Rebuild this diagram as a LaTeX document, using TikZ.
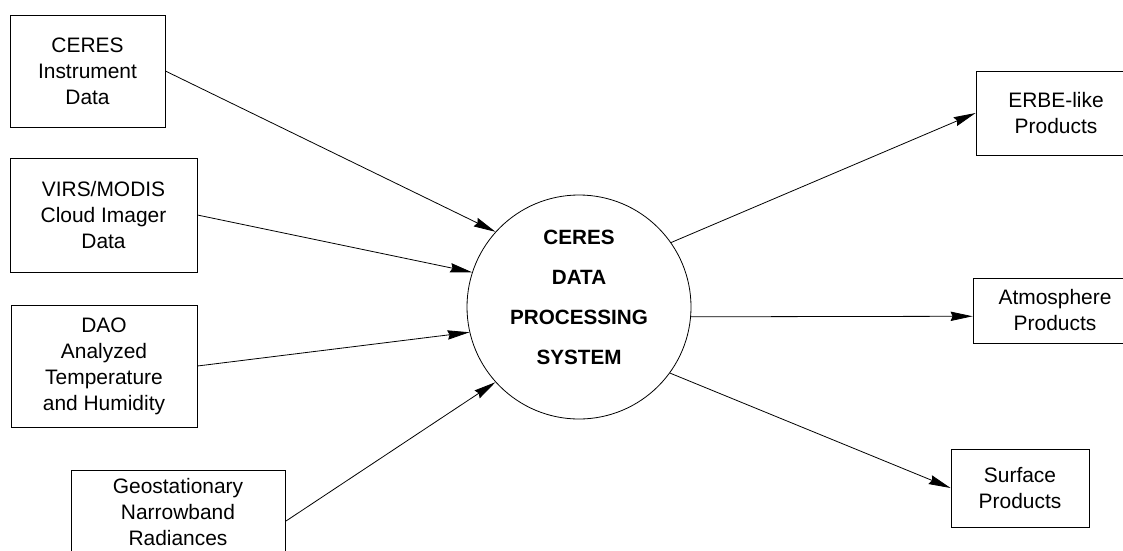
\documentclass[tikz,border=0pt]{standalone}
\usepackage{fontspec}
\setmainfont{Liberation Sans}
\usetikzlibrary{arrows.meta}
\begin{document}
\begin{tikzpicture}[x=0.75pt,y=-0.75pt,
  box/.style={draw, line width=0.6pt, align=center, inner sep=0pt, font=\fontsize{15.7}{19.5}\selectfont},
  flow/.style={line width=0.6pt, -{Stealth[length=16.5pt,width=7pt,inset=1.5pt]}}]
\useasboundingbox (0,0) rectangle (1123,550);
\clip (0,0) rectangle (1123,550);
\node[box, minimum width=116.25pt, minimum height=84pt] (in0) at (87.5,71) {CERES\\Instrument\\Data};
\node[box, minimum width=140.25pt, minimum height=85.5pt] (in1) at (103.5,215) {VIRS/MODIS\\Cloud Imager\\Data};
\node[box, minimum width=139.5pt, minimum height=91.5pt] (in2) at (104,366) {DAO\\Analyzed\\Temperature\\and Humidity};
\node[box, minimum width=160.5pt, minimum height=63pt] (in3) at (178,512) {Geostationary\\Narrowband\\Radiances};
\node[circle, draw, line width=0.6pt, minimum size=168pt, inner sep=0pt, align=center, text depth=15pt,
  font=\bfseries\fontsize{15.5}{30}\selectfont] (sys) at (579,307) {CERES\\DATA\\PROCESSING\\SYSTEM};
\node[box, minimum width=120pt, minimum height=63pt] (out0) at (1056,113) {ERBE-like\\Products};
\node[box, minimum width=123pt, minimum height=48.75pt] (out1) at (1055,310.5) {Atmosphere\\Products};
\node[box, minimum width=103.5pt, minimum height=58.5pt] (out2) at (1020,488) {Surface\\Products};
\draw[flow](in0.east) -- (sys.138.6);
\draw[flow](in1.east) -- (sys.162.9);
\draw[flow](in2.east) -- (sys.193.5);
\draw[flow](in3.-5) -- (sys.222.7);
\draw[flow](sys.35.7) -- (out0.west);
\draw[flow](sys.355.4) -- (out1.184);
\draw[flow](sys.324.5) -- (out2.west);
\end{tikzpicture}
\end{document}
